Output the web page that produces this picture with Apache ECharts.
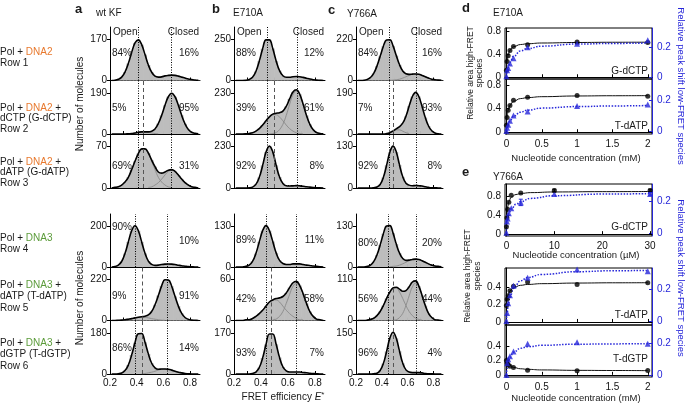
<!DOCTYPE html>
<html><head><meta charset="utf-8">
<script src="https://cdn.jsdelivr.net/npm/echarts@6.0.0/dist/echarts.min.js"></script>
<style>html,body{margin:0;padding:0;background:#fff}#c{width:685px;height:404px}</style>
</head><body><div id="c"></div>
<script>
const FONT = '"Liberation Sans", Arial, sans-serif';

// ---------- histogram data (FRET efficiency bins) ----------
const binCenters = [0.2125,0.2375,0.2625,0.2875,0.3125,0.3375,0.3625,0.3875,0.4125,0.4375,0.4625,0.4875,0.5125,0.5375,0.5625,0.5875,0.6125,0.6375,0.6625,0.6875,0.7125,0.7375,0.7625,0.7875,0.8125,0.8375,0.8625];
const histA1 = [0,1,5,14,35,70,116,155,168,148,107,64,34,18,14,15,19,21,22,21,18,14,10,6,4,2,1];
const histA2 = [0,0,0,0,0,1,2,5,8,10,10,10,13,23,48,86,133,172,188,172,133,86,47,21,8,3,1];
const histA3 = [0,1,2,5,10,18,31,45,58,66,66,59,47,36,27,25,27,30,31,28,22,15,9,5,2,1,0];
const histA4 = [0,2,9,27,66,123,178,202,178,123,67,29,13,8,9,12,14,15,14,12,9,6,4,2,1,0,0];
const histA5 = [0,0,1,2,4,7,10,14,17,20,23,30,48,84,133,185,218,217,183,129,77,38,16,6,2,1,0];
const histA6 = [0,0,1,4,15,39,83,137,176,177,139,88,47,27,21,22,22,21,17,12,8,5,2,1,0,0,0];
const histB1 = [0,0,0,1,6,20,55,117,193,247,247,194,119,60,29,20,20,23,24,23,19,14,9,5,2,1,0];
const histB2 = [0,0,0,1,3,7,16,30,50,74,96,111,116,119,128,154,196,235,247,222,167,104,54,24,8,3,1];
const histB3 = [0,0,0,0,1,5,20,58,125,199,232,200,126,61,25,12,11,12,13,12,10,7,5,3,1,1,0];
const histB4 = [0,0,0,2,6,18,43,80,116,132,116,81,45,21,11,8,8,10,10,10,8,6,5,3,2,1,0];
const histB5 = [0,0,0,1,1,3,6,10,15,21,27,30,32,33,35,40,48,55,57,51,39,25,13,6,2,1,0];
const histB6 = [0,0,0,0,0,2,8,26,66,122,165,165,123,68,29,13,8,8,8,8,6,5,3,2,1,0,0];
const histC1 = [0,0,1,6,16,38,77,129,183,217,218,185,133,84,51,36,33,34,35,33,27,20,13,7,4,2,1];
const histC2 = [0,0,0,0,0,0,0,0,0,2,6,14,24,34,50,82,129,173,192,173,127,76,37,15,5,1,0];
const histC3 = [0,0,0,0,0,1,3,11,33,71,112,131,113,72,35,15,9,7,8,7,6,4,2,1,1,0,0];
const histC4 = [0,0,0,2,6,17,38,70,106,131,132,108,73,44,27,21,22,24,25,24,20,15,10,6,3,2,1];
const histC5 = [0,0,0,1,3,6,13,24,40,59,76,87,89,84,78,80,90,103,106,92,67,40,19,8,2,1,0];
const histC6 = [0,0,0,0,0,1,3,13,38,82,130,152,130,83,39,15,7,5,5,5,4,2,1,1,0,0,0];

// fitted Gaussian components (grey thin curves)
const compA2Low  = [0,0,0,0,0,1,2,5,8,10,10,8,5,2,1,0,0,0,0,0,0,0,0,0,0,0,0];
const compA3Low  = [0,1,2,5,10,18,31,45,58,66,66,58,45,31,18,10,5,2,1,0,0,0,0,0,0,0,0];
const compA3High = [0,0,0,0,0,0,0,0,0,0,0,1,2,5,9,15,22,28,30,28,22,15,9,5,2,1,0];
const compA5Low  = [0,0,1,2,4,7,10,14,17,18,17,14,10,7,4,2,1,0,0,0,0,0,0,0,0,0,0];
const compA6High = [0,0,0,0,0,0,0,0,0,1,2,5,8,12,17,21,22,21,17,12,8,5,2,1,0,0,0];
const compB2Low  = [0,0,0,1,3,7,16,30,50,74,95,108,108,95,74,50,30,16,7,3,1,0,0,0,0,0,0];
const compB2High = [0,0,0,0,0,0,0,0,0,0,1,3,8,24,54,104,166,219,240,219,166,104,54,24,8,3,1];
const compB5Low  = [0,0,0,1,1,3,6,10,15,21,27,30,30,27,21,15,10,6,3,1,1,0,0,0,0,0,0];
const compB5High = [0,0,0,0,0,0,0,0,0,0,0,1,2,6,13,25,38,50,54,50,38,25,13,6,2,1,0];
const compC1High = [0,0,0,0,0,0,0,0,0,0,1,2,4,7,13,20,27,33,35,33,27,20,13,7,4,2,1];
const compC2Low  = [0,0,0,0,0,0,0,0,0,2,6,13,19,19,13,6,2,0,0,0,0,0,0,0,0,0,0];
const compC4High = [0,0,0,0,0,0,0,0,0,0,1,2,3,6,10,15,20,24,25,24,20,15,10,6,3,2,1];
const compC5Low  = [0,0,0,1,3,6,13,24,40,59,76,87,87,76,59,40,24,13,6,3,1,0,0,0,0,0,0];
const compC5High = [0,0,0,0,0,0,0,0,0,0,0,1,2,8,19,40,66,90,100,90,66,40,19,8,2,1,0];

// y-axis top tick per panel (rows 1..6)
const yTickA = [170,190,70,200,220,180];
const yTickB = [250,230,230,130,60,170];
const yTickC = [220,190,130,130,110,150];
// % open / % closed
const pctOpenA = [84,5,69,90,9,86],  pctClosedA = [16,95,31,10,91,14];
const pctOpenB = [88,39,92,89,42,93], pctClosedB = [12,61,8,11,58,7];
const pctOpenC = [84,7,92,80,56,96], pctClosedC = [16,93,8,20,44,4];
// reference lines [open, closed, shifted] for rows 1-3 (DNA2) and rows 4-6 (DNA3)
const refA = [[0.41,0.66,0.45],[0.39,0.625,0.44]];
const refB = [[0.45,0.67,0.50],[0.44,0.655,0.485]];
const refC = [[0.455,0.665,0.49],[0.45,0.665,0.49]];
const xTickVals = [0.2,0.3,0.4,0.5,0.6,0.7,0.8];
const xLabelVals = [0.2,0.4,0.6,0.8];

// ---------- titration data (d, e) ----------
const concMM = [0,0.01,0.025,0.05,0.1,0.3,1,2];
const fitMM  = [0,0.01,0.025,0.05,0.1,0.2,0.3,0.5,1,1.5,2];
const dAreaG = [0.12,0.27,0.37,0.46,0.53,0.56,0.61,0.60];
const dShiftG = [0.005,0.045,0.06,0.09,0.125,0.198,0.222,0.245];
const dAreaGFit = [0.12,0.283,0.392,0.47,0.528,0.565,0.579,0.591,0.6,0.604,0.605];
const dShiftGFit = [0,0.029,0.062,0.098,0.138,0.174,0.19,0.206,0.22,0.224,0.227];
const dAreaT = [0.12,0.25,0.37,0.45,0.54,0.59,0.62,0.61];
const dShiftT = [0,0.02,0.04,0.066,0.10,0.125,0.16,0.17];
const dAreaTFit = [0.12,0.264,0.373,0.457,0.524,0.569,0.586,0.601,0.613,0.617,0.619];
const dShiftTFit = [0,0.019,0.04,0.065,0.094,0.121,0.134,0.147,0.157,0.161,0.164];

const concUM = [0,0.1,0.25,0.5,1,3,10,30];
const fitUM  = [0,0.05,0.1,0.25,0.5,1,2,3,5,10,20,30];
const eAreaG = [0.16,0.35,0.53,0.68,0.83,0.88,0.93,0.93];
const eShiftG = [0,0.07,0.09,0.122,0.153,0.19,0.243,0.243];
const eAreaGFit = [0.16,0.311,0.412,0.58,0.699,0.789,0.846,0.868,0.886,0.9,0.907,0.91];
const eShiftGFit = [0,0.035,0.06,0.09,0.12,0.15,0.178,0.195,0.215,0.232,0.242,0.245];
const eAreaGErr = [[10,0.9,0.96],[30,0.9,0.96]];
const eShiftGErr = [[3,0.17,0.21],[30,0.235,0.252]];
const eAreaT = [0.19,0.26,0.30,0.36,0.41,0.46,0.43,0.45];
const eShiftT = [0,0.05,0.11,0.16,0.22,0.27,0.32,0.31];
const eAreaTFit = [0.19,0.256,0.31,0.356,0.394,0.421,0.431,0.44,0.447,0.45,0.451];
const eShiftTFit = [0,0.046,0.096,0.148,0.203,0.25,0.271,0.29,0.307,0.313,0.315];
const eAreaTG = [0.2,0.16,0.14,0.12,0.1,0.065,0.055,0.06];
const eShiftTG = [0,0.075,0.1,0.12,0.15,0.2,0.21,0.2];
const eAreaTGFit = [0.2,0.176,0.152,0.128,0.103,0.084,0.076,0.068,0.062,0.06,0.058];
const eShiftTGFit = [0,0.041,0.079,0.114,0.146,0.171,0.181,0.19,0.197,0.199,0.201];

// ---------- build ----------
const BLUE = '#2626d9';
const grids = [], xAxes = [], yAxes = [], series = [], G = [];
const cols = [{left:110,width:90},{left:234,width:91},{left:356,width:87}];
const rows = [{top:27,h:53.5},{top:80.5,h:53.5},{top:134,h:54},{top:214,h:53},{top:267,h:53.5},{top:320.5,h:53.5}];
const hists = [[histA1,histA2,histA3,histA4,histA5,histA6],[histB1,histB2,histB3,histB4,histB5,histB6],[histC1,histC2,histC3,histC4,histC5,histC6]];
const comps = [
  [[],[compA2Low],[compA3Low,compA3High],[],[compA5Low],[compA6High]],
  [[],[compB2Low,compB2High],[],[],[compB5Low,compB5High],[]],
  [[compC1High],[compC2Low],[],[compC4High],[compC5Low,compC5High],[]]
];
const yTicks = [yTickA,yTickB,yTickC];
const pOpen = [pctOpenA,pctOpenB,pctOpenC], pClosed = [pctClosedA,pctClosedB,pctClosedC];
const refs = [refA,refB,refC];
const pctY = [
  [[53,53],[108,108],[166,166],[227,241],[296,296],[348,348]],
  [[53,53],[108,108],[166,166],[240,240],[299,299],[353,353]],
  [[53,53],[108,108],[166,166],[243,243],[299,299],[353,353]]
];

function T(text, x, y, o) {
  o = o || {};
  const size = o.size || 10;
  return {type:'text', x:x, y:y, rotation:o.rot||0, silent:true, z:100,
    style:{text:text, fill:o.color||'#1a1a1a', font:(o.bold?'bold ':'')+size+'px '+FONT,
      align:o.align||'left', verticalAlign:'middle', rich:o.rich}};
}

for (let c = 0; c < 3; c++) {
  for (let r = 0; r < 6; r++) {
    const g = grids.length, col = cols[c], row = rows[r];
    const L = yTicks[c][r];
    grids.push({left:col.left, top:row.top, width:col.width, height:row.h, containLabel:false});
    xAxes.push({type:'value', gridIndex:g, min:0.2, max:0.875,
      axisLine:{lineStyle:{color:'#000',width:1}},
      axisTick:{inside:true, length:3, customValues:xTickVals, lineStyle:{color:'#000'}},
      axisLabel:{show:r===5, customValues:xLabelVals, formatter:v=>v.toFixed(1), fontSize:10, color:'#111', margin:4, fontFamily:FONT},
      splitLine:{show:false}});
    yAxes.push({type:'value', gridIndex:g, min:0, max:L*1.3,
      axisLine:{show:true, lineStyle:{color:'#000',width:1}},
      axisTick:{show:true, inside:false, length:3, customValues:[0,L], lineStyle:{color:'#000'}},
      axisLabel:{customValues:[0,L], fontSize:10, color:'#111', margin:3, fontFamily:FONT},
      splitLine:{show:false}});
    const h = hists[c][r];
    const data = binCenters.map((x,i)=>[x,h[i]]);
    const ref = refs[c][r<3?0:1];
    const ml = [{xAxis:ref[0]},{xAxis:ref[1]}];
    if (r!==0 && r!==3) ml.push({xAxis:ref[2], lineStyle:{type:[4,3], color:'#555', width:1}});
    series.push({type:'bar', xAxisIndex:g, yAxisIndex:g, data:data, barWidth:col.width/0.675*0.025+0.6,
      itemStyle:{color:'#bdbdbd'}, silent:true,
      markLine:{silent:true, symbol:['none','none'], label:{show:false}, animation:false,
        lineStyle:{color:'#000', width:1, type:[1,1.5]}, data:ml}});
    comps[c][r].forEach(cp => {
      series.push({type:'line', xAxisIndex:g, yAxisIndex:g, smooth:0.4, symbol:'none', silent:true,
        data:binCenters.map((x,i)=>[x,cp[i]]).filter(p=>p[1]>0),
        lineStyle:{color:'#8a8a8a', width:0.9}, z:3});
    });
    series.push({type:'line', xAxisIndex:g, yAxisIndex:g, smooth:0.4, symbol:'none', silent:true,
      data:data, lineStyle:{color:'#000', width:1.6}, z:4});
    // percentages
    G.push(T(pOpen[c][r]+'%', col.left+2, pctY[c][r][0]));
    G.push(T(pClosed[c][r]+'%', col.left+col.width-1, pctY[c][r][1], {align:'right'}));
  }
  G.push(T('Open', cols[c].left+3, 32));
  G.push(T('Closed', cols[c].left+cols[c].width-1, 32, {align:'right'}));
}

// ---- d / e titration panels ----
const dePanels = [
  {top:28, h:51, x:[-0.02,2.06], xt:[0,0.5,1,1.5,2], showX:false, yl:[-0.03,0.85], ylt:[0,0.4,0.8], yr:[-0.013,0.327],
   cx:concMM, fx:fitMM, a:dAreaG, s:dShiftG, af:dAreaGFit, sf:dShiftGFit, label:'G-dCTP', ly:71},
  {top:79, h:55, x:[-0.02,2.06], xt:[0,0.5,1,1.5,2], showX:true, yl:[-0.03,0.9], ylt:[0,0.4,0.8], yr:[-0.02,0.335],
   cx:concMM, fx:fitMM, a:dAreaT, s:dShiftT, af:dAreaTFit, sf:dShiftTFit, label:'T-dATP', ly:126},
  {top:184, h:52, x:[-0.3,30.4], xt:[0,10,20,30], showX:true, yl:[-0.04,1.07], ylt:[0,0.4,0.8], yr:[-0.02,0.305],
   cx:concUM, fx:fitUM, a:eAreaG, s:eShiftG, af:eAreaGFit, sf:eShiftGFit, ae:eAreaGErr, se:eShiftGErr, label:'G-dCTP', ly:227},
  {top:268, h:57, x:[-0.02,2.06], xt:[0,0.5,1,1.5,2], showX:false, yl:[-0.035,0.62], ylt:[0,0.2,0.4], yr:[-0.025,0.33],
   cx:concMM, fx:fitMM, a:eAreaT, s:eShiftT, af:eAreaTFit, sf:eShiftTFit, label:'T-dATP', ly:315},
  {top:325, h:52, x:[-0.02,2.06], xt:[0,0.5,1,1.5,2], showX:true, yl:[-0.03,0.69], ylt:[0,0.2,0.4], yr:[-0.013,0.32],
   cx:concMM, fx:fitMM, a:eAreaTG, s:eShiftTG, af:eAreaTGFit, sf:eShiftTGFit, label:'T-dGTP', ly:359}
];
function errSeries(xi, yi, data, color) {
  return {type:'custom', xAxisIndex:xi, yAxisIndex:yi, data:data, silent:true, z:6,
    renderItem:(p, api) => {
      const x = api.value(0), a = api.coord([x, api.value(1)]), b = api.coord([x, api.value(2)]);
      const st = {stroke:color, lineWidth:1};
      return {type:'group', children:[
        {type:'line', shape:{x1:a[0],y1:a[1],x2:b[0],y2:b[1]}, style:st},
        {type:'line', shape:{x1:a[0]-2,y1:a[1],x2:a[0]+2,y2:a[1]}, style:st},
        {type:'line', shape:{x1:b[0]-2,y1:b[1],x2:b[0]+2,y2:b[1]}, style:st}]};
    }};
}
const fmt = v => String(Math.round(v*100)/100);
dePanels.forEach(P => {
  const g = grids.length;
  grids.push({left:505, top:P.top, width:147, height:P.h, show:true, borderColor:'#000', borderWidth:1, backgroundColor:'transparent'});
  const xi = xAxes.length;
  xAxes.push({type:'value', gridIndex:g, min:P.x[0], max:P.x[1], position:'bottom',
    axisLine:{lineStyle:{color:'#000'}},
    axisTick:{inside:true, length:3, customValues:P.xt, lineStyle:{color:'#000'}},
    axisLabel:{show:P.showX, customValues:P.xt, formatter:fmt, fontSize:10, color:'#111', margin:5, fontFamily:FONT},
    splitLine:{show:false}});
  const yl = yAxes.length;
  yAxes.push({type:'value', gridIndex:g, min:P.yl[0], max:P.yl[1], position:'left',
    axisLine:{show:true, lineStyle:{color:'#000'}},
    axisTick:{show:true, inside:true, length:3, customValues:P.ylt, lineStyle:{color:'#000'}},
    axisLabel:{customValues:P.ylt, formatter:fmt, fontSize:10, color:'#111', margin:4, fontFamily:FONT},
    splitLine:{show:false}});
  const yr = yAxes.length;
  yAxes.push({type:'value', gridIndex:g, min:P.yr[0], max:P.yr[1], position:'right',
    axisLine:{show:true, lineStyle:{color:BLUE}},
    axisTick:{show:true, inside:true, length:3, customValues:[0,0.2], lineStyle:{color:BLUE}},
    axisLabel:{customValues:[0,0.2], formatter:fmt, fontSize:10, color:BLUE, margin:5, fontFamily:FONT},
    splitLine:{show:false}});
  series.push({type:'line', xAxisIndex:xi, yAxisIndex:yl, smooth:true, smoothMonotone:'x', symbol:'none', silent:true,
    data:P.fx.map((x,i)=>[x,P.af[i]]), lineStyle:{color:'#111', width:1}, z:3});
  series.push({type:'line', xAxisIndex:xi, yAxisIndex:yr, smooth:true, smoothMonotone:'x', symbol:'none', silent:true,
    data:P.fx.map((x,i)=>[x,P.sf[i]]), lineStyle:{color:BLUE, width:1.5, type:'dotted'}, z:3});
  series.push({type:'scatter', xAxisIndex:xi, yAxisIndex:yl, symbol:'circle', symbolSize:5, silent:true,
    data:P.cx.map((x,i)=>[x,P.a[i]]), itemStyle:{color:'#000'}, z:5});
  series.push({type:'scatter', xAxisIndex:xi, yAxisIndex:yr, symbol:'triangle', symbolSize:6, silent:true,
    data:P.cx.map((x,i)=>[x,P.s[i]]), itemStyle:{color:BLUE}, z:5});
  if (P.ae) series.push(errSeries(xi, yl, P.ae, '#000'));
  if (P.se) series.push(errSeries(xi, yr, P.se, BLUE));
  G.push(T(P.label, 648, P.ly, {align:'right'}));
});

// ---- texts ----
const rich = {o:{fill:'#e8792e', font:'10px '+FONT}, g:{fill:'#5b9b3a', font:'10px '+FONT}};
[
  ['Pol + {o|DNA2}',52],['Row 1',63],
  ['Pol + {o|DNA2} +',108],['dCTP (G-dCTP)',118.5],['Row 2',129],
  ['Pol + {o|DNA2} +',162],['dATP (G-dATP)',172.5],['Row 3',183],
  ['Pol + {g|DNA3}',238],['Row 4',249],
  ['Pol + {g|DNA3} +',285],['dATP (T-dATP)',296.5],['Row 5',308],
  ['Pol + {g|DNA3} +',343],['dGTP (T-dGTP)',354.5],['Row 6',366]
].forEach(t => G.push(T(t[0], 0, t[1], {rich:rich})));
G.push(T('Number of molecules', 80, 104, {rot:Math.PI/2, align:'center'}));
G.push(T('Number of molecules', 80, 298, {rot:Math.PI/2, align:'center'}));
G.push(T('FRET efficiency {i|E}{s|*}', 283, 397, {align:'center',
  rich:{i:{font:'italic 10px '+FONT, fill:'#1a1a1a'}, s:{font:'8px '+FONT, fill:'#1a1a1a', padding:[0,0,4,0]}}}));
G.push(T('a', 75, 9, {bold:true, size:13}));
G.push(T('wt KF', 96, 13));
G.push(T('b', 212, 9, {bold:true, size:13}));
G.push(T('E710A', 233, 13));
G.push(T('c', 328, 10, {bold:true, size:13}));
G.push(T('Y766A', 347, 14));
G.push(T('d', 462, 8, {bold:true, size:13}));
G.push(T('E710A', 493, 13));
G.push(T('e', 462, 172, {bold:true, size:13}));
G.push(T('Y766A', 493, 177));
G.push(T('Nucleotide concentration (mM)', 576, 158, {align:'center', size:9.5}));
G.push(T('Nucleotide concentration (\u00b5M)', 576, 255, {align:'center', size:9.5}));
G.push(T('Nucleotide concentration (mM)', 576, 398, {align:'center', size:9.5}));
G.push(T('Relative area high-FRET', 471, 73, {rot:Math.PI/2, align:'center', size:8.5}));
G.push(T('species', 480, 73, {rot:Math.PI/2, align:'center', size:8.5}));
G.push(T('Relative area high-FRET', 468, 276, {rot:Math.PI/2, align:'center', size:8.5}));
G.push(T('species', 477.5, 276, {rot:Math.PI/2, align:'center', size:8.5}));
G.push(T('Relative peak shift low-FRET species', 681, 86, {rot:-Math.PI/2, align:'center', size:9.5, color:BLUE}));
G.push(T('Relative peak shift low-FRET species', 681, 278, {rot:-Math.PI/2, align:'center', size:9.5, color:BLUE}));

const chart = echarts.init(document.getElementById('c'), null, {renderer:'canvas'});
chart.setOption({animation:false, backgroundColor:'#fff', grid:grids, xAxis:xAxes, yAxis:yAxes, series:series,
  graphic:{elements:G}});
</script></body></html>
